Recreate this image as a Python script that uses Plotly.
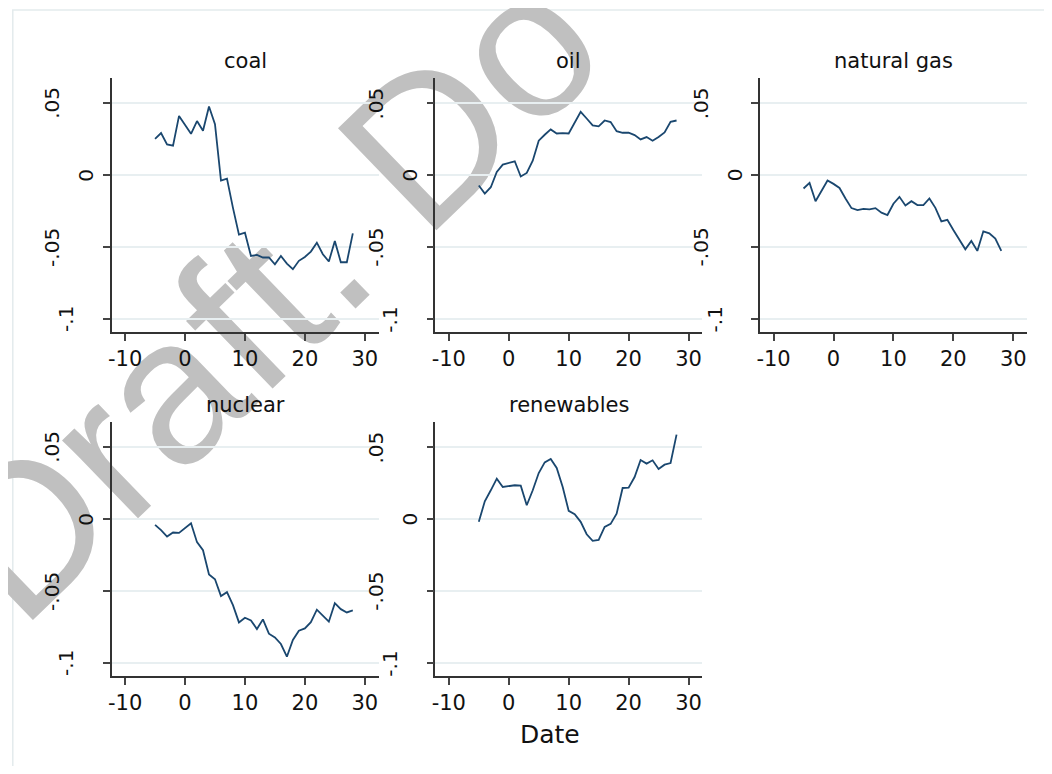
import plotly.graph_objects as go

# page is offset by the default 8px body margin
OFF = 8
W, H = 1052 - 2 * OFF, 774 - 2 * OFF

days = list(range(-5, 29))

coal = [0.0253, 0.0293, 0.0214, 0.0205, 0.0412, 0.0350, 0.0288, 0.0376, 0.0309, 0.0477,
        0.0355, -0.0037, -0.0023, -0.0226, -0.0412, -0.0399, -0.0560, -0.0553, -0.0571, -0.0571,
        -0.0618, -0.0560, -0.0613, -0.0652, -0.0594, -0.0567, -0.0530, -0.0468, -0.0548, -0.0599,
        -0.0456, -0.0604, -0.0604, -0.0403]
oil = [-0.0071, -0.0127, -0.0083, 0.0023, 0.0074, 0.0088, 0.0097, -0.0009, 0.0016, 0.0101,
       0.0240, 0.0281, 0.0318, 0.0290, 0.0293, 0.0290, 0.0366, 0.0440, 0.0394, 0.0346,
       0.0339, 0.0380, 0.0369, 0.0306, 0.0295, 0.0295, 0.0279, 0.0249, 0.0265, 0.0240,
       0.0265, 0.0297, 0.0371, 0.0380]
natural_gas = [-0.0092, -0.0053, -0.0180, -0.0106, -0.0037, -0.0060, -0.0088, -0.0161, -0.0228, -0.0242,
               -0.0233, -0.0237, -0.0228, -0.0260, -0.0276, -0.0198, -0.0150, -0.0210, -0.0180, -0.0207,
               -0.0207, -0.0161, -0.0226, -0.0320, -0.0309, -0.0380, -0.0449, -0.0514, -0.0456, -0.0525,
               -0.0389, -0.0403, -0.0440, -0.0525]
nuclear = [-0.0039, -0.0076, -0.0120, -0.0092, -0.0095, -0.0060, -0.0028, -0.0159, -0.0215, -0.0383,
           -0.0416, -0.0533, -0.0506, -0.0596, -0.0716, -0.0684, -0.0702, -0.0762, -0.0695, -0.0794,
           -0.0820, -0.0866, -0.0954, -0.0838, -0.0774, -0.0758, -0.0714, -0.0628, -0.0672, -0.0711,
           -0.0582, -0.0624, -0.0647, -0.0633]
renewables = [-0.0018, 0.0125, 0.0201, 0.0282, 0.0224, 0.0231, 0.0236, 0.0233, 0.0097, 0.0201,
              0.0321, 0.0395, 0.0418, 0.0356, 0.0224, 0.0058, 0.0035, -0.0018, -0.0104, -0.0150,
              -0.0143, -0.0053, -0.0032, 0.0039, 0.0217, 0.0219, 0.0293, 0.0411, 0.0386, 0.0409,
              0.0349, 0.0379, 0.0390, 0.0587]

panel_titles = ["coal", "oil", "natural gas", "nuclear", "renewables"]
series = [coal, oil, natural_gas, nuclear, renewables]

x_ticks = [-10, 0, 10, 20, 30]
y_ticks = [0.05, 0, -0.05, -0.1]
y_tick_labels = [".05", "0", "-.05", "-.1"]
y_label_offsets = [-59, -25, -59, -45]   # px left of axis line (label centre)

x_title = "Date"
watermark = "Draft. Do"

# page-pixel layout of the panels
col_px = [(108, 376), (433, 701), (759, 1027)]
row_px = [(78, 332), (422, 676)]
panel_pos = [(0, 0), (0, 1), (0, 2), (1, 0), (1, 1)]


def px_x(p):
    return (p - OFF) / W


def px_y(p):
    return 1 - (p - OFF) / H


FONT = "DejaVu Sans"
NAVY = "#1a476f"
GRID = "#e8eff1"

fig = go.Figure()
annotations = []
shapes = []

# background frame and watermark (below everything)
shapes.append(dict(type="rect", xref="paper", yref="paper",
                   x0=0.8 / W, x1=1.02, y0=-0.02, y1=px_y(10),
                   line=dict(color="#e3ebed", width=1.5), fillcolor="rgba(0,0,0,0)",
                   layer="below"))
cx, cy = 251, 280
shapes.append(dict(type="rect", xref="paper", yref="paper",
                   x0=px_x(cx - 1), x1=px_x(cx + 1), y0=px_y(cy + 1), y1=px_y(cy - 1),
                   line=dict(width=0, color="rgba(0,0,0,0)"), fillcolor="rgba(0,0,0,0)",
                   layer="below",
                   label=dict(text=watermark, textangle=-44, textposition="middle center",
                              font=dict(family="Liberation Sans, Arial", size=206, color="#c0c0c0"))))

for i, (name, vals) in enumerate(zip(panel_titles, series)):
    r, c = panel_pos[i]
    k = "" if i == 0 else str(i + 1)
    fig.add_trace(go.Scatter(x=days, y=vals, mode="lines", name=name,
                             line=dict(color=NAVY, width=1.8),
                             xaxis="x" + k, yaxis="y" + k, showlegend=False))
    x0, x1 = col_px[c]
    y0, y1 = row_px[r]
    fig.update_layout(**{
        "xaxis" + k: dict(domain=[px_x(x0), px_x(x1)], range=[-12.25, 32.3],
                          tickvals=x_ticks, ticktext=[str(t) for t in x_ticks],
                          showgrid=False, zeroline=False,
                          showline=True, linecolor="#333", linewidth=1.5,
                          ticks="outside", ticklen=7, tickwidth=1.5, tickcolor="#444",
                          tickfont=dict(family=FONT, size=21, color="#111"),
                          anchor="y" + k, fixedrange=True),
        "yaxis" + k: dict(domain=[px_y(y1), px_y(y0)], range=[-0.1088, 0.0675],
                          tickvals=y_ticks, showticklabels=False,
                          showgrid=True, gridcolor=GRID, gridwidth=1.5, zeroline=False,
                          showline=True, linecolor="#333", linewidth=1.5,
                          ticks="outside", ticklen=7, tickwidth=1.5, tickcolor="#444",
                          anchor="x" + k, fixedrange=True),
    })
    annotations.append(dict(text=name, xref="x%s domain" % k, yref="y%s domain" % k,
                            x=0.5, y=1, yshift=17, showarrow=False,
                            xanchor="center", yanchor="middle",
                            font=dict(family=FONT, size=21, color="#111")))
    for v, lab, off in zip(y_ticks, y_tick_labels, y_label_offsets):
        annotations.append(dict(text=lab, xref="x%s domain" % k, yref="y" + k,
                                x=0, y=v, xshift=off, showarrow=False, textangle=-90,
                                xanchor="center", yanchor="middle",
                                font=dict(family=FONT, size=20, color="#111")))

annotations.append(dict(text=x_title, xref="paper", yref="paper",
                        x=px_x(548), y=px_y(734), showarrow=False,
                        xanchor="center", yanchor="middle",
                        font=dict(family=FONT, size=25, color="#111")))

fig.update_layout(width=W, height=H, margin=dict(l=0, r=0, t=0, b=0),
                  paper_bgcolor="white", plot_bgcolor="rgba(0,0,0,0)",
                  annotations=annotations, shapes=shapes, showlegend=False)

fig.write_html("out.html")
